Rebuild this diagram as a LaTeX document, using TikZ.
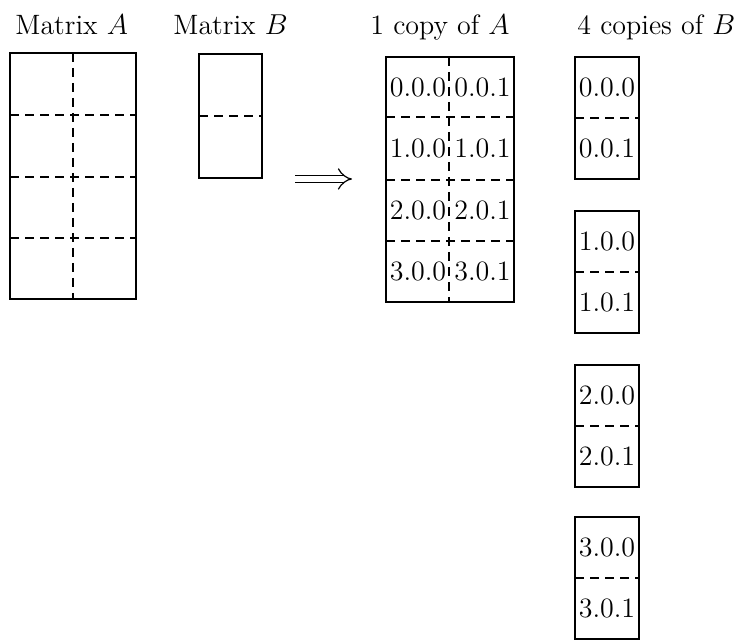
\documentclass[tikz,border=0pt]{standalone}
\usetikzlibrary{arrows.meta}
\begin{document}
\begin{tikzpicture}[x=0.5pt,y=-0.5pt,
  box/.style={line width=0.8pt},
  grid/.style={line width=0.7pt,dash pattern=on 4.5pt off 3pt},
  lbl/.style={inner sep=0pt,anchor=base west,font=\fontsize{14}{17}\selectfont},
  cell/.style={inner sep=0pt,font=\fontsize{14}{17}\selectfont},
  dbl/.style={line width=0.6pt,double distance=3.2pt,-{Implies[length=5pt,width=9pt]}}]
\useasboundingbox (0,0) rectangle (744,640);
% titles
\node[lbl] (tA) at (15,35) {Matrix $A$};
\node[lbl] (tB) at (173,35) {Matrix $B$};
\node[lbl] (tcA) at (370,35) {1 copy of $A$};
\node[lbl] (tcB) at (577,35) {4 copies of $B$};
% Matrix A
\draw[box] (10,53) rectangle (136,299);
\draw[grid] (73,53) -- (73,299);
\foreach \y in {115,177,238} \draw[grid] (10,\y) -- (136,\y);
% Matrix B
\draw[box] (199,54) rectangle (262,178);
\draw[grid] (199,116) -- (262,116);
% arrow
\coordinate (arrS) at (295,179);
\coordinate (arrE) at (352,179);
\draw[dbl] (arrS) -- (arrE);
% copy of A
\draw[box] (386,57) rectangle (514,302);
\draw[grid] (449,57) -- (449,302);
\foreach \y in {117,180,241} \draw[grid] (386,\y) -- (514,\y);
\foreach \r/\yc in {0/87,1/148.5,2/210.5,3/271.5}{
  \node[cell] (a\r0) at (418,\yc) {\r.0.0};
  \node[cell] (a\r1) at (482.5,\yc) {\r.0.1};
}
% copies of B
\foreach \r/\top in {0/57,1/211,2/365,3/517}{
  \draw[box] (575,\top) rectangle (639,\top+122);
  \draw[grid] (575,\top+61) -- (639,\top+61);
  \node[cell] (b\r0) at (607,\top+30.5) {\r.0.0};
  \node[cell] (b\r1) at (607,\top+91.5) {\r.0.1};
}
\end{tikzpicture}
\end{document}
